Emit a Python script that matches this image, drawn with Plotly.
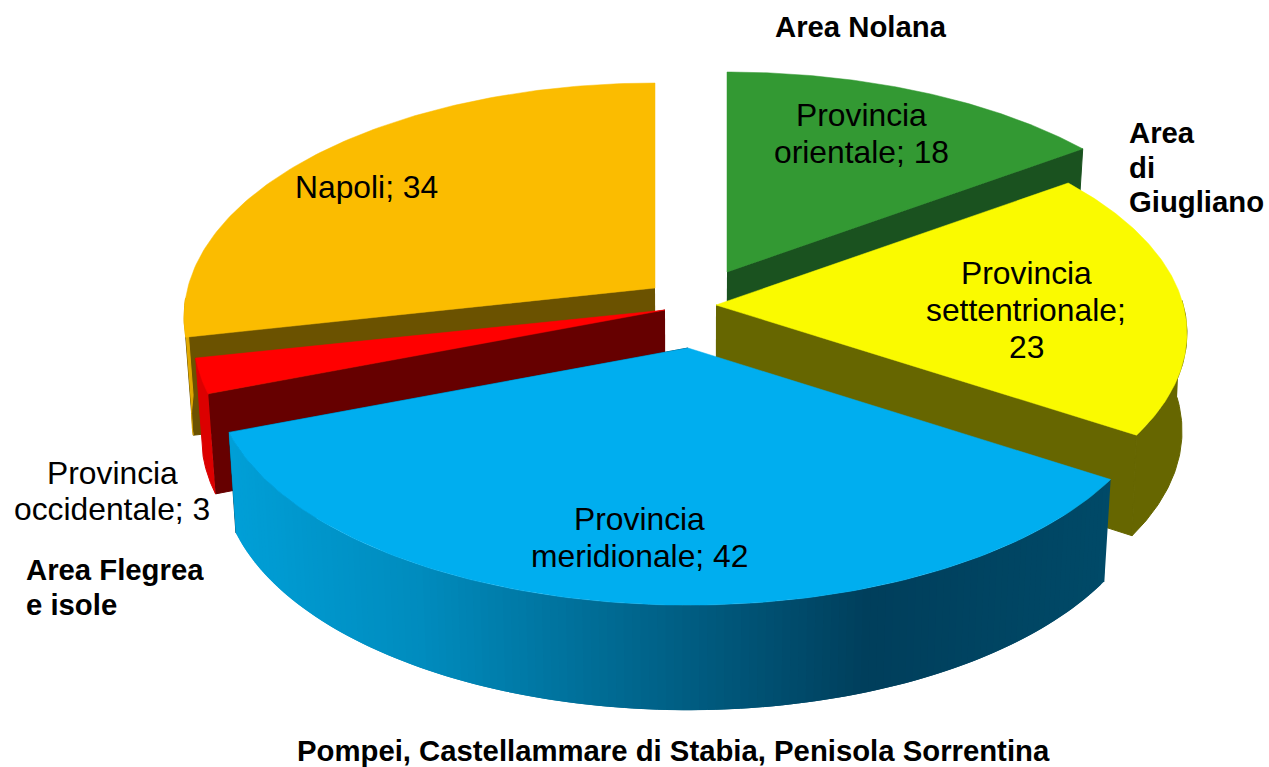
import numpy as np
import plotly.graph_objects as go

# ---- data ----
categories = ["Provincia orientale", "Provincia settentrionale", "Provincia meridionale",
              "Provincia occidentale", "Napoli"]
values = [18, 23, 42, 3, 34]
area_labels = ["Area Nolana", "Area di Giugliano", "Pompei, Castellammare di Stabia, Penisola Sorrentina",
               "Area Flegrea e isole"]

# ---- style ----
top_colors = ["#339933", "#FAFA00", "#00AEEF", "#FF0000", "#FBBC00"]
cut_colors = ["#1A521F", "#666600", "#004A68", "#660000", "#6B5200"]
rim_colors = ["#1A521F", "#666600", None, "#DC0000", "#E0A800"]
apex = [(727, 272), (716, 305), (688, 348), (665, 310), (655, 288)]
scale_x = [1.0, 0.99, 0.995, 0.99, 0.99]
scale_y = [1.0, 0.99, 1.0, 1.0, 1.025]
shrink = [0.985, 0.99, 0.985, 0.985, 0.985]
RX, RY, K, DEPTH, VX = 472, 225, 0.125, 97, 690
FONT = "Liberation Sans"
draw_order = [4, 0, 3, 1, 2]
blue_stops = [(225, (0, 160, 216)), (420, (0, 140, 190)), (620, (0, 105, 145)),
              (870, (0, 63, 92)), (1105, (0, 74, 104))]


def project(i, theta):
    t = np.radians(theta)
    p = 1 / (1 + K * np.cos(t))
    return (apex[i][0] + scale_x[i] * RX * np.sin(t) * p,
            apex[i][1] - scale_y[i] * RY * np.cos(t) * p)


def drop(i, x, y):
    pscale = 1 + K * 0.65 * (y - 300) / 300
    return VX + (x - VX) * shrink[i], y + DEPTH * pscale


def poly(xs, ys, color, line=0.0):
    fig.add_trace(go.Scatter(x=list(xs), y=list(ys), mode="lines", fill="toself", fillcolor=color,
                             line=dict(color=color, width=line), hoverinfo="skip", showlegend=False))


fig = go.Figure()
edges = np.concatenate([[0], np.cumsum(values)]) / sum(values) * 360

for i in draw_order:
    a0, a1 = edges[i], edges[i + 1]
    th = np.linspace(a0, a1, 120)
    xs, ys = project(i, th)
    ax, ay = apex[i]
    axb, ayb = drop(i, ax, ay)

    # cut wall on the side that faces the viewer
    cut_theta = a1 if i == 0 else a0 if i in (3, 4) else a1
    cx, cy = project(i, cut_theta)
    cxb, cyb = drop(i, cx, cy)
    poly([ax, cx, cxb, axb], [ay, cy, cyb, ayb], cut_colors[i], 1)

    # outer wall, only where the rim faces the viewer
    rim = th[(np.cos(np.radians(th)) < 0.03)] if i != 4 else th[th < 268]
    if rim.size > 1:
        rx, ry = project(i, rim)
        bx, by = drop(i, rx, ry)
        if rim_colors[i] is not None:
            poly(np.r_[rx, bx[::-1]], np.r_[ry, by[::-1]], rim_colors[i], 1)
        else:
            n = 140
            edges_t = np.linspace(rim[0], rim[-1], n + 1)
            sx, sy = project(i, edges_t)
            ex, ey = drop(i, sx, sy)
            stops_x = [s[0] for s in blue_stops]
            # overlapping strips painted in order, so no seams show between them
            for k in range(n):
                j = min(k + 2, n)
                mid = (sx[k] + sx[k + 1]) / 2
                rgb = [np.interp(mid, stops_x, [s[1][c] for s in blue_stops]) for c in range(3)]
                col = "rgb(%d,%d,%d)" % tuple(rgb)
                idx = list(range(k, j + 1))
                poly(np.r_[sx[idx], ex[idx][::-1]], np.r_[sy[idx], ey[idx][::-1]], col, 0)

    # top surface
    poly(np.r_[ax, xs, ax], np.r_[ay, ys, ay], top_colors[i], 0.5)


def note(text, x, y, anchor="center", bold=False):
    fig.add_annotation(x=x, y=y, xref="x", yref="y", text=f"<b>{text}</b>" if bold else text, showarrow=False,
                       xanchor=anchor, yanchor="middle", height=34, borderpad=0, valign="middle",
                       font=dict(family=FONT, size=29.3 if bold else 31.8, color="#000000"))


def value_label(i, split_at, x, ys):
    words = f"{categories[i]}; {values[i]}".split(" ")
    lines = [" ".join(words[a:b]) for a, b in zip([0] + split_at, split_at + [len(words)])]
    for line, y in zip(lines, ys):
        note(line, x, y)


value_label(0, [1], 861, [115, 152])
value_label(1, [1, 2], 1026, [273, 310, 347])
value_label(2, [1], 639, [519, 556])
value_label(3, [1], 112, [473, 509])
value_label(4, [], 366, [187])

note(area_labels[0], 861, 26, bold=True)
w = area_labels[1].split(" ")
for line, y in zip(w, [132, 167, 201]):
    note(line, 1128, y, "left", True)
note(area_labels[2], 673, 750, bold=True)
note("Area Flegrea", 25, 569, "left", True)
note("e isole", 25, 604, "left", True)

fig.update_layout(
    width=1269, height=767, autosize=False, margin=dict(l=0, r=0, t=0, b=0),
    paper_bgcolor="white", plot_bgcolor="white", showlegend=False,
    xaxis=dict(range=[0, 1269], visible=False, fixedrange=True),
    yaxis=dict(range=[767, 0], visible=False, fixedrange=True),
)
fig.write_html("out.html", config={"displayModeBar": False},
               post_script="document.body.style.margin='0';document.body.style.overflow='hidden';")
